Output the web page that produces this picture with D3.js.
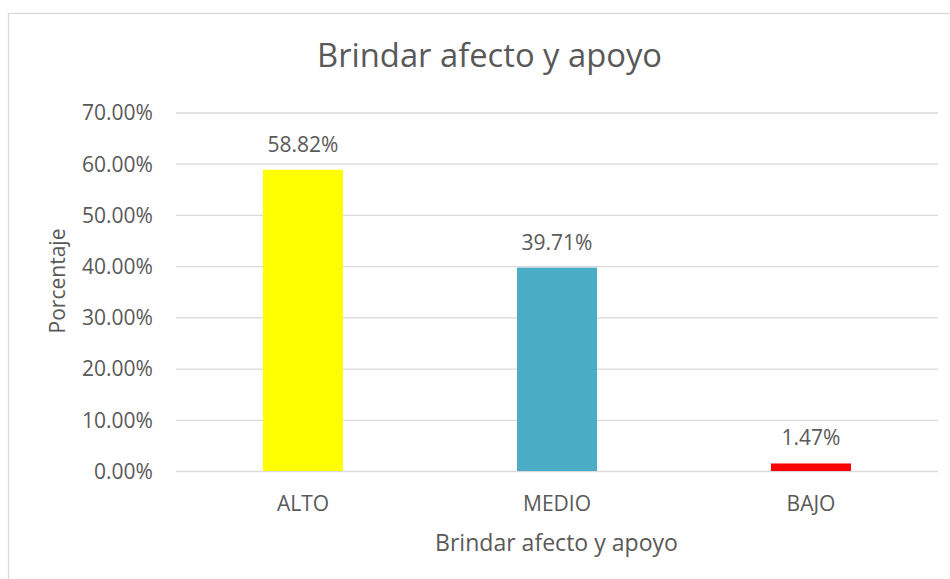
<!DOCTYPE html>
<html><head><meta charset="utf-8">
<script src="https://cdn.jsdelivr.net/npm/d3@7"></script>
<style>body{margin:0;background:#fff}svg{display:block}text{font-family:"Open Sans",sans-serif;font-weight:400;fill:#595959}</style>
</head><body><svg id="c" width="950" height="579"></svg>
<script>
const categories = ["ALTO","MEDIO","BAJO"];
const values = [58.82, 39.71, 1.47];
const colors = ["#FFFF00","#4BACC6","#FF0000"];
const yTicks = [0,10,20,30,40,50,60,70];
const title = "Brindar afecto y apoyo";
const xTitle = "Brindar afecto y apoyo";
const yTitle = "Porcentaje";

const svg = d3.select("#c");
const m = {left:176, right:938, top:112.5, bottom:471};
svg.append("rect").attr("x",8.5).attr("y",13.5).attr("width",960).attr("height",600)
  .attr("fill","#fff").attr("stroke","#D9D9D9").attr("stroke-width",1.3);

// size a text so that its width matches the given width
function fit(sel, w, base){
  sel.style("font-size", base+"px");
  const n = sel.node(); const l = n.getComputedTextLength();
  sel.style("font-size", (base*w/l).toFixed(2)+"px");
}

const x = d3.scaleBand().domain(categories).range([m.left,m.right]).paddingInner(0.685).paddingOuter(0.3425);
const y = d3.scaleLinear().domain([0,70]).range([m.bottom,m.top]);

const grid = svg.append("g").attr("transform",`translate(${m.left},0)`)
  .call(d3.axisLeft(y).tickValues(yTicks).tickSize(-(m.right-m.left)).tickFormat(d=>d.toFixed(2)+"%"));
grid.select(".domain").remove();
grid.selectAll("line").attr("stroke","#D9D9D9").attr("stroke-width",1.3);
const tt = grid.selectAll("text").attr("x",-23).attr("dy","0.35em").attr("fill","#595959");
fit(d3.select(tt.nodes()[7]), 71, 20);
const tickSize = d3.select(tt.nodes()[7]).style("font-size");
tt.style("font-size", tickSize);

svg.append("g").selectAll("text").data(values).join("text")
  .attr("x",(d,i)=>x(categories[i])+x.bandwidth()/2).attr("y",d=>y(d)-18)
  .attr("text-anchor","middle").style("font-size",tickSize).text(d=>d.toFixed(2)+"%");

svg.append("g").selectAll("rect").data(values).join("rect")
  .attr("x",(d,i)=>x(categories[i])).attr("width",x.bandwidth())
  .attr("y",d=>y(d)).attr("height",d=>y(0)-y(d)).attr("fill",(d,i)=>colors[i]);

const xa = svg.append("g").attr("transform",`translate(0,${m.bottom})`)
  .call(d3.axisBottom(x).tickSize(0).tickPadding(0));
xa.select(".domain").remove();
xa.selectAll("text").attr("dy",0).attr("y",40).style("font-size",tickSize).attr("fill","#595959");

const t1 = svg.append("text").attr("x",489.5).attr("y",67).attr("text-anchor","middle").text(title);
fit(t1, 345, 30);
const t2 = svg.append("text").attr("x",556.5).attr("y",551).attr("text-anchor","middle").text(xTitle);
fit(t2, 243, 20);
const t3 = svg.append("text").attr("transform","translate(65,281) rotate(-90)").attr("text-anchor","middle").text(yTitle);
fit(t3, 105, 20);
</script></body></html>
